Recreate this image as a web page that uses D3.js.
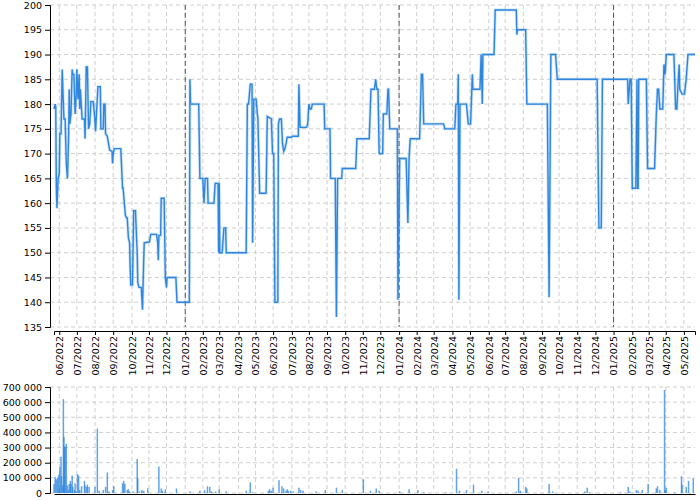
<!DOCTYPE html>
<html>
<head>
<meta charset="utf-8">
<script src="https://cdn.jsdelivr.net/npm/d3@7/dist/d3.min.js"></script>
<style>
  html, body { margin: 0; padding: 0; background: #fff; }
  svg { display: block; font-family: "DejaVu Sans", sans-serif; }
  .axis text { font-size: 9.5px; fill: #000; font-family: "DejaVu Sans", sans-serif; }
  .axis path, .axis line { stroke: #000; }
</style>
</head>
<body>
<svg id="chart" width="700" height="500"></svg>
<script>
// ---------- DATA ----------
const priceDates = [
"2022-05-23","2022-05-25","2022-05-26","2022-05-27","2022-05-28","2022-05-30","2022-06-01","2022-06-02","2022-06-04","2022-06-06",
"2022-06-08","2022-06-09","2022-06-11","2022-06-13","2022-06-15","2022-06-17","2022-06-18","2022-06-19","2022-06-21","2022-06-23",
"2022-06-24","2022-06-26","2022-06-28","2022-06-30","2022-07-01","2022-07-03","2022-07-05","2022-07-06","2022-07-07","2022-07-08",
"2022-07-09","2022-07-10","2022-07-14","2022-07-15","2022-07-16","2022-07-17","2022-07-19","2022-07-21","2022-07-23","2022-07-25",
"2022-07-29","2022-07-31","2022-08-02","2022-08-03","2022-08-06","2022-08-10","2022-08-11","2022-08-15","2022-08-16","2022-08-18",
"2022-08-19","2022-08-22","2022-08-26","2022-08-30","2022-08-31","2022-09-01","2022-09-03","2022-09-14","2022-09-17","2022-09-18",
"2022-09-20","2022-09-22","2022-09-24","2022-09-25","2022-09-27","2022-09-29","2022-09-30","2022-10-01","2022-10-04","2022-10-05",
"2022-10-06","2022-10-09","2022-10-12","2022-10-13","2022-10-15","2022-10-19","2022-10-21","2022-10-23","2022-10-24","2022-11-02",
"2022-11-04","2022-11-14","2022-11-16","2022-11-17","2022-11-18","2022-11-21","2022-11-22","2022-11-27","2022-11-29","2022-12-01",
"2022-12-02","2022-12-17","2022-12-19","2023-01-09","2023-01-10","2023-01-11","2023-01-25","2023-01-27","2023-02-01","2023-02-03",
"2023-02-05","2023-02-09","2023-02-10","2023-02-20","2023-02-22","2023-02-27","2023-02-28","2023-03-01","2023-03-02","2023-03-06",
"2023-03-09","2023-03-12","2023-03-13","2023-04-16","2023-04-18","2023-04-20","2023-04-23","2023-04-26","2023-04-27","2023-04-29",
"2023-05-03","2023-05-05","2023-05-06","2023-05-09","2023-05-20","2023-05-22","2023-05-29","2023-05-31","2023-06-02","2023-06-04",
"2023-06-09","2023-06-10","2023-06-12","2023-06-15","2023-06-17","2023-06-19","2023-06-21","2023-06-23","2023-06-25","2023-07-02",
"2023-07-04","2023-07-14","2023-07-15","2023-07-17","2023-07-28","2023-07-30","2023-08-01","2023-08-03","2023-08-05","2023-08-07",
"2023-08-27","2023-08-28","2023-09-06","2023-09-07","2023-09-15","2023-09-17","2023-09-19","2023-09-26","2023-09-27","2023-10-20",
"2023-10-22","2023-11-12","2023-11-15","2023-11-21","2023-11-23","2023-11-25","2023-11-27","2023-11-29","2023-12-05","2023-12-06",
"2023-12-12","2023-12-14","2023-12-15","2023-12-17","2023-12-30","2023-12-31","2024-01-03","2024-01-14","2024-01-17","2024-01-19",
"2024-01-21","2024-02-06","2024-02-09","2024-02-11","2024-02-13","2024-03-18","2024-03-20","2024-04-06","2024-04-08","2024-04-11",
"2024-04-12","2024-04-13","2024-04-15","2024-04-26","2024-04-29","2024-05-03","2024-05-06","2024-05-07","2024-05-19","2024-05-21",
"2024-05-23","2024-05-24","2024-06-12","2024-06-14","2024-07-20","2024-07-21","2024-07-22","2024-08-05","2024-08-07","2024-09-11",
"2024-09-14","2024-09-17","2024-09-25","2024-09-28","2024-12-05","2024-12-08","2024-12-12","2024-12-14","2025-01-26","2025-01-27",
"2025-01-30","2025-02-01","2025-02-03","2025-02-09","2025-02-11","2025-02-12","2025-02-13","2025-02-14","2025-02-27","2025-03-01",
"2025-03-13","2025-03-16","2025-03-18","2025-03-20","2025-03-22","2025-03-27","2025-03-29","2025-03-31","2025-04-02","2025-04-15",
"2025-04-18","2025-04-20","2025-04-22","2025-04-24","2025-04-25","2025-04-27","2025-04-29","2025-05-03","2025-05-06","2025-05-09",
"2025-05-21"
];
const priceValues = [
179,180,179.5,163,159,165,166,174,174,187,
180,177,177,168,165,174,183,176,178,187,
186,186,178,182,187,181,186,179,183,181,
179,177,177,173,180,187.5,187.5,175,176,180.5,
180.5,178,174.5,177,183.5,183.5,175,175,180,180,
174,173.5,170.7,170.5,168,170,171,171,163,163,
160,157.5,157,157,153,152,147,143.5,143.5,151,
158.5,158.5,150,144,143,143,138.5,148,152,152.2,
153.7,153.7,152,148.5,153.5,153.5,161,161,145,143,
145,145,140,140,185,180,180,165,165,160,
165,165,160,160,164,164,150,164,150,150,
155,155,150,150,180,180,184,184,152,181,
181,178,177,162,162,177.5,177,170,170,140,
140,176,177,177,172,170.5,171,172,173.3,173.3,
173.5,173.5,184,175.3,175.3,176,180,179,179,180,
180,175,175,165,165,137,165,165,167,167,
173,173,183,183,185,183,183,170,170,178,
178,183,183,175,175,140.5,169,169,156,169,
173,173,186,186,176,176,175,175,180,180,
186,140.5,180,180,176,176,186,183,183,190,
180,190,190,199,199,194,195,195,180,180,
141,190,190,185,185,155,155,185,185,180,
185,185,163,163,185,163,163,185,185,167,
167,178,183,183,179,179,188,186,190,190,
179,179,184,188,183,182.5,182,182,185,190,
190
];

const volumeDates = [
"2022-05-23","2022-05-25","2022-05-27","2022-05-29","2022-05-31","2022-06-01","2022-06-02","2022-06-04","2022-06-05","2022-06-07",
"2022-06-08","2022-06-09","2022-06-10","2022-06-11","2022-06-13","2022-06-15","2022-06-17","2022-06-18","2022-06-20","2022-06-21",
"2022-06-23","2022-06-24","2022-06-27","2022-06-28","2022-06-30","2022-07-02","2022-07-04","2022-07-06","2022-07-09","2022-07-14",
"2022-07-15","2022-07-18","2022-07-19","2022-07-22","2022-08-01","2022-08-05","2022-08-08","2022-08-15","2022-08-19","2022-08-22",
"2022-08-25","2022-08-31","2022-09-02","2022-09-17","2022-09-19","2022-09-21","2022-09-25","2022-09-27","2022-09-29","2022-10-05",
"2022-10-12","2022-10-13","2022-10-16","2022-10-20","2022-10-23","2022-10-30","2022-11-18","2022-11-22","2022-11-24","2022-11-29",
"2022-12-18","2023-01-10","2023-01-27","2023-02-04","2023-02-09","2023-02-13","2023-02-16","2023-02-23","2023-03-01","2023-03-13",
"2023-04-16","2023-04-23","2023-04-27","2023-05-24","2023-05-26","2023-05-29","2023-06-01","2023-06-11","2023-06-16","2023-06-19",
"2023-06-23","2023-06-25","2023-06-27","2023-07-01","2023-07-05","2023-07-15","2023-07-18","2023-07-22","2023-08-13","2023-08-29",
"2023-09-17","2023-09-27","2023-11-02","2023-11-14","2023-11-24","2023-11-29","2024-01-03","2024-01-19","2024-02-03","2024-02-13",
"2024-03-22","2024-04-09","2024-04-14","2024-04-26","2024-05-08","2024-05-22","2024-06-02","2024-07-20","2024-07-24","2024-07-27",
"2024-08-05","2024-08-07","2024-09-14","2024-09-20","2024-11-14","2024-11-18","2024-11-22","2025-01-14","2025-01-27","2025-01-30",
"2025-02-10","2025-02-13","2025-02-20","2025-03-02","2025-03-16","2025-03-18","2025-03-22","2025-03-30","2025-03-31","2025-04-02",
"2025-04-16","2025-04-28","2025-04-29","2025-05-06","2025-05-10","2025-05-18"
];
const volumeValues = [
60000,105000,90000,100000,120000,30000,170000,240000,110000,50000,
620000,370000,305000,305000,325000,50000,20000,60000,80000,60000,
115000,40000,20000,65000,10000,125000,115000,20000,45000,80000,
50000,40000,55000,40000,40000,425000,15000,20000,40000,135000,
10000,20000,45000,65000,80000,60000,20000,25000,10000,10000,
225000,100000,10000,20000,15000,30000,175000,30000,15000,25000,
30000,10000,15000,20000,45000,40000,10000,10000,25000,10000,
15000,70000,5000,15000,25000,15000,35000,85000,45000,30000,
15000,25000,15000,15000,10000,35000,20000,15000,10000,20000,
35000,20000,90000,15000,30000,15000,10000,25000,20000,5000,
5000,160000,15000,20000,55000,15000,10000,10000,100000,15000,
40000,30000,60000,10000,10000,35000,5000,5000,40000,10000,
20000,15000,20000,60000,30000,45000,20000,680000,20000,35000,
5000,110000,55000,40000,80000,100000
];

const monthTicks = [
"2022-06-01","2022-07-01","2022-08-01","2022-09-01","2022-10-03","2022-11-01","2022-12-01",
"2023-01-02","2023-02-01","2023-03-01","2023-04-03","2023-05-02","2023-06-01","2023-07-03","2023-08-01","2023-09-01","2023-10-02","2023-11-01","2023-12-01",
"2024-01-02","2024-02-01","2024-03-01","2024-04-02","2024-05-02","2024-06-03","2024-07-01","2024-08-01","2024-09-02","2024-10-01","2024-11-01","2024-12-02",
"2025-01-02","2025-02-03","2025-03-03","2025-04-01","2025-05-02"
];
const yearTicks = ["2023-01-02","2024-01-02","2025-01-02"];
const priceTicks = [135,140,145,150,155,160,165,170,175,180,185,190,195,200];
const volumeTicks = [0,100000,200000,300000,400000,500000,600000,700000];
const dateRange = ["2022-05-23","2025-05-21"];

// ---------- CHART ----------
const parse = d3.timeParse("%Y-%m-%d");
const svg = d3.select("#chart");
const color = "#2e86de";
const L = 54, R = 695;
const top1 = 5, bot1 = 327, xAxis1Y = 331;
const top2 = 387, bot2 = 493, xAxis2Y = 494;
const axisX = 50;

const x = d3.scaleTime().domain(dateRange.map(parse)).range([L, R]);
const yP = d3.scaleLinear().domain([135, 200]).range([bot1, top1]);
const yV = d3.scaleLinear().domain([0, 700000]).range([bot2, top2]);

const loc = d3.formatLocale({decimal: ",", thousands: " ", grouping: [3], currency: ["", " €"]});
const fmtVol = loc.format(",d");

const tickDates = monthTicks.map(parse);

function grid(g, yScale, yTicks, yTop, yBot) {
  g.selectAll("line.h").data(yTicks).join("line")
    .attr("x1", axisX).attr("x2", R)
    .attr("y1", d => yScale(d)).attr("y2", d => yScale(d))
    .attr("stroke", "#cfcfcf").attr("stroke-dasharray", "4,3");
  g.selectAll("line.v").data(tickDates).join("line")
    .attr("x1", d => x(d)).attr("x2", d => x(d))
    .attr("y1", yTop).attr("y2", yBot)
    .attr("stroke", "#cfcfcf").attr("stroke-dasharray", "4,3");
}
grid(svg.append("g"), yP, priceTicks, top1, bot1);
grid(svg.append("g"), yV, volumeTicks, top2, bot2);

// year separators
svg.append("g").selectAll("line").data(yearTicks.map(parse)).join("line")
  .attr("x1", d => x(d)).attr("x2", d => x(d))
  .attr("y1", top1).attr("y2", bot1)
  .attr("stroke", "#555").attr("stroke-dasharray", "5,3");

// price line
const pts = priceDates.map((d, i) => ({date: parse(d), v: priceValues[i]}));
const line = d3.line().x(d => x(d.date)).y(d => yP(d.v));
svg.append("path").datum(pts).attr("d", line)
  .attr("fill", "none").attr("stroke", color).attr("stroke-opacity", 0.25).attr("stroke-width", 3);
svg.append("path").datum(pts).attr("d", line)
  .attr("fill", "none").attr("stroke", color).attr("stroke-width", 1.4);

// volume bars
const vols = volumeDates.map((d, i) => ({date: parse(d), v: volumeValues[i]}));
svg.append("g").selectAll("rect").data(vols).join("rect")
  .attr("x", d => x(d.date) - 0.75).attr("width", 1.5)
  .attr("y", d => yV(d.v)).attr("height", d => yV(0) - yV(d.v))
  .attr("fill", color).attr("fill-opacity", 0.75);

// axes
svg.append("g").attr("class", "axis").attr("transform", `translate(${axisX},0)`)
  .call(d3.axisLeft(yP).tickValues(priceTicks).tickSizeOuter(0).tickSize(5));
svg.append("g").attr("class", "axis").attr("transform", `translate(${axisX},0)`)
  .call(d3.axisLeft(yV).tickValues(volumeTicks).tickFormat(fmtVol).tickSizeOuter(0).tickSize(5));

const xa = svg.append("g").attr("class", "axis").attr("transform", `translate(0,${xAxis1Y})`)
  .call(d3.axisBottom(x).tickValues(tickDates).tickFormat(d3.timeFormat("%m/%Y")).tickSizeOuter(0).tickSize(4));
xa.selectAll("text")
  .attr("transform", "rotate(-90)")
  .attr("text-anchor", "end")
  .attr("x", -5).attr("y", 0).attr("dy", "0.35em");

svg.append("g").attr("class", "axis").attr("transform", `translate(0,${xAxis2Y})`)
  .call(d3.axisBottom(x).tickValues([]).tickSizeOuter(0));
</script>
</body>
</html>
